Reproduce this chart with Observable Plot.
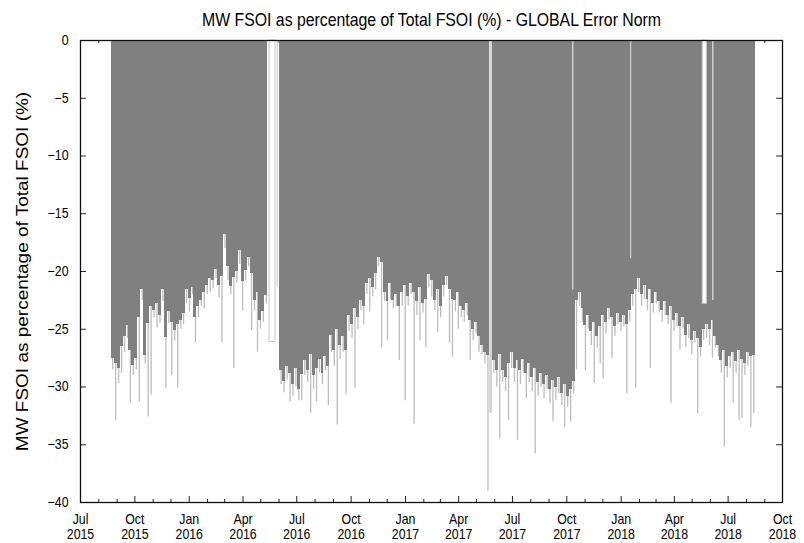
<!DOCTYPE html>
<html><head><meta charset="utf-8">
<script src="https://cdn.jsdelivr.net/npm/d3@7"></script>
<script src="https://cdn.jsdelivr.net/npm/@observablehq/plot@0.6"></script>
<style>
body{margin:0;background:#fff;}
#chart svg{font-family:"Liberation Sans",Arial,sans-serif;background:#fff;}
</style></head><body><div id="chart"></div>
<script>
const title = "MW FSOI as percentage of Total FSOI (%) - GLOBAL Error Norm";
const yLabel = "MW FSOI as percentage of Total FSOI (%)";
const xDomain = ["2015-07-01", "2018-10-01"];
const yTicks = [0, -5, -10, -15, -20, -25, -30, -35, -40];
const firstBin = "2015-08-22";
const binDays = 5;

// typical (dark) daily extent per 5-day bin
const body = [
-27.5,-28.0,-28.4,-26.5,-25.6,-24.7,-26.8,-28.1,-27.5,-24.0,
-21.6,-27.3,-24.5,-23.0,-23.4,-22.8,-23.8,-21.6,-25.7,-23.5,
-24.4,-25.1,-24.6,-24.2,-23.6,-21.6,-22.3,-21.4,-24.0,-23.0,
-22.5,-21.8,-21.2,-20.6,-20.8,-19.8,-21.2,-20.4,-16.8,-19.6,
-21.3,-20.5,-20.0,-18.2,-20.9,-19.9,-18.8,-20.2,-22.5,-21.8,
-24.2,-23.5,-22.1,null,null,null,null,-28.6,-29.5,-28.2,
-28.8,-29.8,-28.4,-30.2,-28.9,-27.7,-28.6,-27.2,-29.0,-28.4,
-27.6,-28.8,-27.4,-28.2,-25.5,-26.8,-25.0,-26.4,-25.6,-26.8,
-23.8,-24.6,-23.2,-24.0,-22.5,-23.0,-21.0,-20.6,-21.4,-20.2,
-18.8,-19.2,-21.8,-22.6,-21.0,-22.5,-22.0,-23.0,-21.8,-21.2,
-22.2,-21.0,-21.8,-22.6,-21.4,-22.8,-22.4,-20.3,-20.8,-22.5,
-21.6,-23.0,-21.2,-20.4,-21.6,-22.4,-22.5,-21.8,-23.0,-23.4,
-22.8,-24.2,-25.0,-24.4,-25.6,-26.4,-27.0,-27.3,null,-27.7,
-28.6,-27.2,-28.6,-29.2,-28.0,-27.0,-28.4,-27.7,-28.6,-27.6,
-28.8,-28.0,-29.2,-28.4,-29.6,-28.8,-29.8,-29.0,-30.2,-29.4,
-30.0,-29.2,-30.6,-29.8,-30.8,-30.2,-29.5,-22.5,-21.8,-23.2,
-24.7,-23.8,-25.2,-24.4,-25.6,-24.8,-23.8,-24.4,-23.2,-24.0,
-24.8,-23.6,-24.4,-23.8,-24.6,-23.4,-22.0,-21.6,-20.6,-22.0,
-21.2,-22.4,-21.6,-22.8,-21.8,-22.6,-23.4,-22.6,-23.8,-23.0,
-24.2,-23.6,-24.8,-24.0,-25.5,-24.6,-26.0,-25.2,-25.8,-26.6,
-25.0,-24.6,-25.0,-24.2,-25.6,-26.4,-27.7,-26.8,-28.2,-27.4,
-27.0,-27.8,-26.8,-27.6,-28.0,-27.0,-27.4,-27.3
];
// lowest single-day value in each bin (light spikes)
const tip = [
-28.5,-32.9,-29.7,-28.8,-27.0,-25.8,-31.4,-29.0,-28.5,-31.3,
-22.5,-28.0,-32.6,-30.7,-24.0,-24.9,-24.5,-22.6,-30.1,-24.5,
-29.0,-26.0,-30.1,-25.0,-24.6,-22.8,-23.5,-22.0,-26.2,-24.0,
-23.0,-23.2,-22.0,-21.8,-21.5,-20.6,-22.3,-26.2,-18.0,-20.8,
-22.0,-28.4,-21.0,-19.4,-23.4,-20.8,-19.6,-25.1,-23.4,-27.0,
-25.0,-24.4,-22.8,null,null,null,null,-29.8,-30.5,-29.4,
-31.3,-30.8,-30.0,-31.2,-31.2,-29.0,-29.6,-32.3,-30.2,-31.3,
-28.8,-29.8,-28.6,-31.6,-27.0,-28.2,-33.3,-27.6,-27.0,-30.7,
-25.2,-25.8,-30.1,-25.0,-23.4,-24.6,-22.0,-23.5,-22.2,-21.6,
-19.6,-26.6,-22.6,-26.0,-22.4,-23.2,-23.0,-27.7,-23.0,-31.2,
-23.0,-22.0,-33.2,-23.8,-26.0,-23.6,-26.6,-21.4,-22.2,-23.4,
-25.3,-24.0,-22.2,-21.2,-26.2,-27.4,-23.5,-25.0,-24.0,-24.4,
-23.8,-27.7,-26.0,-25.4,-27.0,-27.2,-28.0,-39.0,null,-28.8,
-30.0,-34.5,-29.6,-30.4,-32.9,-28.4,-29.6,-34.6,-29.8,-28.8,
-31.0,-29.6,-30.4,-35.8,-30.8,-30.0,-31.0,-30.2,-31.4,-33.0,
-31.2,-30.6,-31.6,-33.5,-31.8,-33.0,-30.6,-28.5,-23.0,-24.4,
-28.6,-25.0,-26.4,-29.7,-26.6,-28.0,-29.3,-25.4,-24.2,-27.5,
-25.6,-24.6,-25.2,-24.8,-30.6,-24.4,-23.0,-30.1,-21.8,-23.0,
-22.4,-23.4,-28.4,-23.6,-22.8,-23.6,-24.4,-23.8,-24.6,-31.4,
-25.2,-24.8,-26.8,-25.0,-26.6,-25.8,-27.2,-26.2,-32.3,-27.4,
-26.0,-25.8,-26.4,-27.5,-26.6,-27.4,-28.8,-35.2,-29.2,-28.4,
-31.4,-28.8,-32.9,-32.7,-29.0,-28.2,-33.5,-32.3
];
// hollow (unfilled) boxes in data gaps
const hollowStart = ["2016-05-16", "2018-05-19"];
const hollowEnd = ["2016-05-26", "2018-05-26"];
const hollowValue = [-26.1, -22.8];
// single light bars
const lightDate = ["2016-05-29", "2017-05-25", "2017-10-11", "2018-01-17", "2018-06-05"];
const lightValue = [-21.4, -32.3, -21.6, -18.9, -22.5];
const lightWidth = [1.2, 2.5, 1.5, 1.2, 1.5];

const d0 = new Date(firstBin);
const bins = body.map((b, i) => ({
  start: d3.utcDay.offset(d0, binDays * i),
  mid: d3.utcHour.offset(d3.utcDay.offset(d0, binDays * i), binDays * 12),
  end: d3.utcDay.offset(d0, binDays * (i + 1)),
  body: b, tip: tip[i]
}));
const hollow = hollowStart.map((s, i) => ({start: new Date(s), end: new Date(hollowEnd[i]), value: hollowValue[i]}));
const lights = lightDate.map((d, i) => ({date: new Date(d), value: lightValue[i], w: lightWidth[i]}));

const xMin = new Date(xDomain[0]), xMax = new Date(xDomain[1]);
const months = d3.utcMonths(xMin, d3.utcDay.offset(xMax, 1));
const major = months.filter(d => d.getUTCMonth() % 3 === 0);
const minor = months.filter(d => d.getUTCMonth() % 3 !== 0);
const yTickLen = d3.utcDay.offset(xMin, 10);
const yTickLenR = d3.utcDay.offset(xMax, -10);

const chart = Plot.plot({
  width: 804, height: 543,
  marginLeft: 80, marginRight: 22, marginTop: 40, marginBottom: 41,
  style: {fontFamily: "Liberation Sans, Arial, sans-serif", fontSize: "14px", background: "#fff"},
  x: {type: "utc", domain: [xMin, xMax]},
  y: {domain: [-40, 0]},
  marks: [
    // top mirror ticks (behind bars)
    Plot.ruleX(major, {x: d => d, y1: 0, y2: -0.52, stroke: "#222"}),
    Plot.ruleX(minor, {x: d => d, y1: 0, y2: -0.26, stroke: "#222"}),
    // light spikes
    Plot.ruleX(bins.filter(d => d.tip != null), {x: "mid", y1: 0, y2: "tip", stroke: "#bdbdbd", strokeWidth: 1.3}),
    // dark body
    Plot.rectY(bins.filter(d => d.body != null), {x1: "start", x2: "end", y1: 0, y2: "body", fill: "#808080", shapeRendering: "crispEdges"}),
    // light lines and hollow boxes
    Plot.ruleX(lights, {x: "date", y1: 0, y2: "value", stroke: "#cfcfcf", strokeWidth: "w"}),
    Plot.rectY(hollow, {x1: "start", x2: "end", y1: 0, y2: "value", fill: "white", stroke: "#c8c8c8", strokeWidth: 1}),
    // bottom ticks
    Plot.ruleX(major, {x: d => d, y1: -40, y2: -39.48, stroke: "#222"}),
    Plot.ruleX(minor, {x: d => d, y1: -40, y2: -39.74, stroke: "#222"}),
    // left / right ticks
    Plot.ruleY(yTicks, {y: d => d, x1: xMin, x2: yTickLen, stroke: "#222"}),
    Plot.ruleY(yTicks, {y: d => d, x1: yTickLenR, x2: xMax, stroke: "#222"}),
    Plot.frame({stroke: "#111", strokeWidth: 1.3}),
    Plot.axisY(yTicks, {anchor: "left", tickSize: 0, tickPadding: 12, fontSize: 14, label: null}),
    Plot.axisX(major, {anchor: "bottom", tickSize: 0, tickPadding: 11, fontSize: 14, lineHeight: 1.08, label: null,
      tickFormat: d => d3.utcFormat("%b")(d) + "\n" + d3.utcFormat("%Y")(d)}),
    Plot.text([title], {frameAnchor: "top", dy: -27, fontSize: 18, fill: "black"}),
    Plot.text([yLabel], {frameAnchor: "left", textAnchor: "middle", dx: -58, rotate: -90, fontSize: 19, fill: "black"})
  ]
});
document.getElementById("chart").append(chart);
const SX = 0.88;
chart.querySelectorAll("text").forEach(t => {
  const ax = parseFloat(t.getAttribute("x")) || 0;
  const ay = parseFloat(t.getAttribute("y")) || 0;
  const tr = t.getAttribute("transform") || "";
  const s = /rotate\(/.test(tr) ? `scale(1,${SX})` : `scale(${SX},1)`;
  t.setAttribute("transform", `${tr} translate(${ax},${ay}) ${s} translate(${-ax},${-ay})`);
});
</script></body></html>
